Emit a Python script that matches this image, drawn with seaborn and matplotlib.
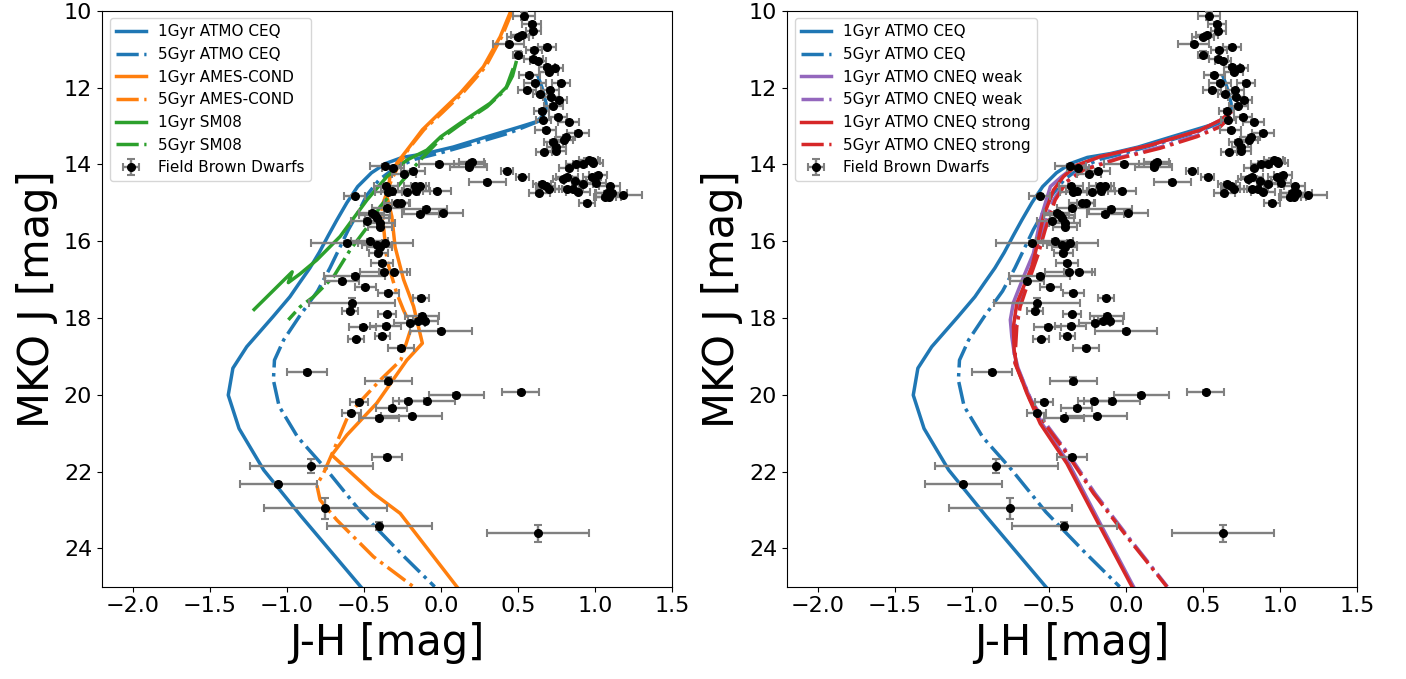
import matplotlib
matplotlib.use("Agg")
import matplotlib.pyplot as plt
import seaborn as sns

# Field brown dwarfs (J-H, MKO J, errors)
bd_jh = [0.54, 0.59, 0.60, 0.525, 0.50, 0.44, 0.69, 0.605, 0.50, 0.60, 0.63, 0.69, 0.74, 0.70, 0.575,
         0.61, 0.78, 0.56, 0.71, 0.715, 0.77, 0.645, 0.73, 0.655, 0.76, 0.83, 0.665, 0.68, 0.89, 0.81,
         0.80, 0.73, 0.75, 0.75, 0.67,
         0.88, 0.83, 0.925, 0.96, 0.99, 0.98, 0.79, 0.82, 0.87, 0.98, 1.02, 0.655, 0.68, 0.70, 0.64,
         0.82, 0.855, 0.89, 0.92, 1.01, 1.095, 1.08, 1.11, 1.065, 1.09, 1.185, 0.95,
         0.185, 0.20, 0.18, 0.43, 0.53, 0.30, -0.01,
         -0.36, -0.31, -0.18, -0.24, -0.56, -0.357, -0.32, -0.34, -0.22, -0.167, -0.134, -0.16, -0.026,
         -0.286, -0.258, -0.35, -0.45, -0.43, -0.415, -0.48, -0.398, -0.134, -0.097, 0.011, -0.394,
         -0.61, -0.463, -0.36, -0.415, -0.398, -0.405, -0.383, -0.56, -0.372, -0.303, -0.64, -0.49,
         -0.34, -0.13, -0.578, -0.59, -0.35, -0.12, -0.203, -0.15, -0.10, -0.357, -0.508, 0.0, -0.38,
         -0.55, -0.26, -0.87, -0.34, 0.10, 0.52, -0.09, -0.21, -0.53, -0.32, -0.58, -0.40, -0.19,
         -0.35, -0.84, -1.054, -0.75, -0.40, 0.63]
bd_j = [10.14, 10.35, 10.52, 10.63, 10.69, 10.87, 10.94, 11.02, 11.14, 11.26, 11.30, 11.47, 11.50, 11.59, 11.67,
        11.89, 11.89, 12.07, 12.07, 12.24, 12.33, 12.17, 12.48, 12.61, 12.76, 12.89, 12.85, 13.11, 13.18, 13.28,
        13.37, 13.41, 13.54, 13.65, 13.69,
        13.98, 14.09, 14.00, 13.89, 13.97, 13.91, 14.37, 14.32, 14.43, 14.32, 14.28, 14.50, 14.56, 14.65, 14.75,
        14.65, 14.63, 14.71, 14.52, 14.48, 14.56, 14.75, 14.74, 14.84, 14.86, 14.80, 15.00,
        13.99, 13.95, 14.06, 14.17, 14.32, 14.45, 14.00,
        14.04, 14.10, 14.17, 14.25, 14.83, 14.56, 14.70, 14.73, 14.71, 14.56, 14.57, 14.70, 14.69,
        15.02, 15.02, 15.13, 15.26, 15.32, 15.39, 15.47, 15.54, 15.30, 15.16, 15.26, 15.62,
        16.04, 16.00, 16.04, 16.10, 16.16, 16.32, 16.56, 16.91, 16.81, 16.80, 17.03, 17.19,
        17.36, 17.47, 17.60, 17.81, 17.91, 17.94, 18.14, 18.07, 18.07, 18.20, 18.23, 18.33, 18.46,
        18.56, 18.78, 19.40, 19.63, 20.00, 19.92, 20.17, 20.17, 20.18, 20.35, 20.47, 20.60, 20.55,
        21.62, 21.86, 22.33, 22.96, 23.42, 23.61]
bd_jh_err = [0.07, 0.06, 0.05, 0.07, 0.07, 0.10, 0.06, 0.05, 0.03, 0.06, 0.05, 0.05, 0.05, 0.06, 0.07,
             0.07, 0.06, 0.06, 0.06, 0.05, 0.05, 0.05, 0.06, 0.05, 0.06, 0.07, 0.05, 0.07, 0.07, 0.06,
             0.06, 0.06, 0.06, 0.06, 0.05,
             0.07, 0.06, 0.07, 0.06, 0.06, 0.05, 0.06, 0.07, 0.07, 0.06, 0.06, 0.06, 0.06, 0.07, 0.07,
             0.08, 0.07, 0.08, 0.07, 0.06, 0.07, 0.08, 0.10, 0.07, 0.08, 0.12, 0.05,
             0.10, 0.08, 0.12, 0.04, 0.04, 0.12, 0.13,
             0.10, 0.07, 0.08, 0.08, 0.07, 0.08, 0.07, 0.09, 0.08, 0.07, 0.06, 0.09, 0.09,
             0.08, 0.06, 0.10, 0.08, 0.10, 0.08, 0.10, 0.10, 0.12, 0.14, 0.13, 0.08,
             0.23, 0.12, 0.18, 0.10, 0.08, 0.06, 0.07, 0.20, 0.15, 0.10, 0.11, 0.07,
             0.07, 0.05, 0.28, 0.05, 0.06, 0.11, 0.10, 0.06, 0.08, 0.10, 0.09, 0.20, 0.05,
             0.05, 0.085, 0.13, 0.155, 0.18, 0.12, 0.18, 0.10, 0.06, 0.10, 0.06, 0.13, 0.20,
             0.10, 0.40, 0.25, 0.40, 0.34, 0.33]
bd_j_err = [0.10, 0.05, 0.05, 0.05, 0.05, 0.05, 0.05, 0.05, 0.10, 0.05, 0.05, 0.05, 0.05, 0.05, 0.05,
            0.05, 0.05, 0.05, 0.05, 0.05, 0.05, 0.05, 0.05, 0.05, 0.05, 0.05, 0.05, 0.05, 0.05, 0.05,
            0.05, 0.05, 0.05, 0.05, 0.05,
            0.05, 0.05, 0.05, 0.05, 0.05, 0.05, 0.05, 0.05, 0.05, 0.05, 0.05, 0.05, 0.05, 0.05, 0.05,
            0.05, 0.05, 0.05, 0.05, 0.05, 0.05, 0.05, 0.05, 0.05, 0.05, 0.05, 0.05,
            0.05, 0.05, 0.05, 0.05, 0.05, 0.05, 0.05,
            0.05, 0.05, 0.05, 0.05, 0.05, 0.05, 0.05, 0.05, 0.05, 0.05, 0.05, 0.05, 0.05,
            0.05, 0.05, 0.05, 0.05, 0.05, 0.05, 0.05, 0.05, 0.05, 0.05, 0.05, 0.05,
            0.05, 0.05, 0.05, 0.05, 0.05, 0.05, 0.05, 0.05, 0.05, 0.05, 0.05, 0.05,
            0.05, 0.05, 0.12, 0.05, 0.05, 0.05, 0.05, 0.05, 0.05, 0.05, 0.05, 0.05, 0.05,
            0.05, 0.05, 0.05, 0.08, 0.05, 0.05, 0.05, 0.05, 0.05, 0.05, 0.05, 0.05, 0.05,
            0.06, 0.19, 0.05, 0.27, 0.10, 0.23]

# ATMO CEQ
ceq1_jh = [0.63, 0.655, 0.683, 0.683, 0.666, 0.62, 0.50, 0.30, 0.08, -0.10, -0.25, -0.36, -0.45, -0.54,
           -0.61, -0.675, -0.73, -0.79, -0.85, -0.92, -0.98, -1.09, -1.26, -1.35, -1.38, -1.31, -1.15, -0.91, -0.52]
ceq1_j = [11.70, 11.98, 12.41, 12.59, 12.72, 12.89, 13.04, 13.28, 13.55, 13.72, 13.82, 13.98, 14.22, 14.58,
          15.0, 15.45, 15.85, 16.3, 16.7, 17.1, 17.45, 17.97, 18.75, 19.31, 20.01, 20.88, 21.96, 23.15, 25.0]
ceq5_jh = [0.65, 0.59, 0.44, 0.22, 0.0, -0.17, -0.30, -0.40, -0.48, -0.53, -0.60, -0.66, -0.72, -0.80,
           -0.92, -1.02, -1.08, -1.087, -1.05, -0.93, -0.74, -0.52, -0.26, -0.04]
ceq5_j = [12.85, 12.95, 13.19, 13.45, 13.70, 13.87, 14.1, 14.4, 14.8, 15.2, 15.7, 16.2, 16.7, 17.3,
          17.97, 18.57, 19.1, 19.62, 20.3, 21.1, 21.96, 23.05, 24.13, 25.0]

# AMES-COND
cond1_jh = [0.455, 0.385, 0.276, 0.125, 0.0, -0.12, -0.22, -0.286, -0.33, -0.35, -0.318, -0.297, -0.242,
            -0.177, -0.12, -0.221, -0.416, -0.61, -0.708, -0.437, -0.264, 0.104]
cond1_j = [10.0, 10.68, 11.46, 12.15, 12.63, 13.1, 13.63, 13.97, 14.32, 14.84, 15.36, 16.15, 17.0,
           17.7, 18.66, 19.1, 20.22, 21.05, 21.57, 22.57, 23.09, 25.0]
cond5_jh = [0.465, 0.395, 0.29, 0.14, 0.01, -0.11, -0.21, -0.27, -0.32, -0.383, -0.372, -0.36, -0.35,
            -0.318, -0.286, -0.242, -0.19, -0.26, -0.394, -0.524, -0.60, -0.686, -0.762, -0.805, -0.784,
            -0.676, -0.437, -0.178]
cond5_j = [10.0, 10.68, 11.46, 12.15, 12.65, 13.1, 13.6, 14.0, 14.4, 15.1, 15.62, 16.1, 16.49,
           16.93, 17.36, 17.8, 18.23, 19.1, 19.62, 20.18, 20.53, 21.35, 22.05, 22.35, 22.74,
           23.26, 24.22, 25.0]

# SM08
sm1_jh = [0.488, 0.465, 0.428, 0.32, 0.125, 0.0, -0.091, -0.221, -0.35, -0.48, -0.654, -0.805, -0.913,
          -0.99, -0.965, -1.212]
sm1_j = [11.35, 11.7, 11.98, 12.41, 12.93, 13.28, 13.63, 13.89, 14.32, 14.93, 15.88, 16.49, 16.85,
         17.08, 16.8, 17.78]
sm5_jh = [0.47, 0.42, 0.30, 0.12, 0.0, -0.134, -0.264, -0.394, -0.46, -0.589, -0.697, -0.827, -0.913, -0.99]
sm5_j = [11.5, 12.05, 12.5, 12.98, 13.33, 13.89, 14.5, 15.1, 15.54, 16.23, 16.93, 17.45, 17.71, 18.05]

# ATMO CNEQ weak
weak1_jh = [0.68, 0.613, 0.483, 0.158, -0.167, -0.33, -0.42, -0.49, -0.556, -0.60, -0.664, -0.73, -0.75,
            -0.74, -0.725, -0.70, -0.635, -0.545, -0.37, -0.155, 0.05]
weak1_j = [12.65, 12.85, 13.11, 13.5, 13.8, 14.05, 14.33, 14.58, 15.45, 16.32, 16.93, 17.6, 18.05,
           18.5, 18.9, 19.3, 19.96, 20.75, 21.79, 23.44, 25.0]
weak5_jh = [0.68, 0.613, 0.461, 0.223, -0.037, -0.29, -0.40, -0.47, -0.54, -0.58, -0.66, -0.70, -0.72,
            -0.725, -0.715, -0.615, -0.505, -0.375, -0.20, 0.015, 0.27]
weak5_j = [12.75, 13.0, 13.25, 13.55, 13.82, 14.15, 14.5, 14.93, 15.71, 16.32, 17.19, 17.71, 18.23,
           19.05, 19.2, 20.14, 20.83, 21.53, 22.57, 23.7, 25.0]

# ATMO CNEQ strong
strong1_jh = [0.68, 0.613, 0.483, 0.158, -0.167, -0.318, -0.405, -0.47, -0.535, -0.578, -0.61, -0.664,
              -0.708, -0.73, -0.725, -0.708, -0.643, -0.556, -0.383, -0.167, 0.04]
strong1_j = [12.65, 12.85, 13.11, 13.5, 13.8, 14.02, 14.32, 14.67, 15.36, 16.14, 16.67, 17.19,
             17.62, 18.23, 18.84, 19.27, 19.96, 20.75, 21.79, 23.44, 25.0]
strong5_jh = [0.68, 0.613, 0.461, 0.223, -0.037, -0.275, -0.383, -0.459, -0.524, -0.567, -0.643, -0.686,
              -0.708, -0.72, -0.72, -0.621, -0.513, -0.383, -0.21, 0.007, 0.266]
strong5_j = [12.75, 13.02, 13.28, 13.58, 13.84, 14.15, 14.45, 14.93, 15.71, 16.32, 17.19, 17.71,
             18.23, 19.05, 19.18, 20.14, 20.83, 21.53, 22.57, 23.7, 25.0]

BLUE, ORANGE, GREEN, PURPLE, RED = "#1f77b4", "#ff7f0e", "#2ca02c", "#9467bd", "#d62728"
LW = 2.5


def model(ax, x, y, color, ls, label):
    sns.lineplot(x=x, y=y, sort=False, estimator=None, ax=ax, color=color,
                 linestyle=ls, linewidth=LW, label=label)


def field_dwarfs(ax):
    ax.errorbar(bd_jh, bd_j, xerr=bd_jh_err, yerr=bd_j_err, fmt="o", color="k",
                ecolor="grey", markersize=5.5, elinewidth=1.7, capsize=3, capthick=1.5,
                zorder=3, label="Field Brown Dwarfs")


def finish(ax):
    ax.set_xlim(-2.2, 1.5)
    ax.set_ylim(25, 10)
    ax.set_yticks([10, 12, 14, 16, 18, 20, 22, 24])
    ax.set_xlabel("J-H [mag]", fontsize=30)
    ax.set_ylabel("MKO J [mag]", fontsize=30)
    ax.tick_params(labelsize=16)
    ax.legend(loc="upper left", fontsize=11)


fig = plt.figure(figsize=(14.06, 6.79), dpi=100)
ax1 = fig.add_axes([0.0725, 0.1359, 0.4054, 0.8483])
ax2 = fig.add_axes([0.5597, 0.1359, 0.4054, 0.8483])

# Left: ATMO vs AMES-COND vs SM08
model(ax1, ceq1_jh, ceq1_j, BLUE, "-", "1Gyr ATMO CEQ")
model(ax1, ceq5_jh, ceq5_j, BLUE, "-.", "5Gyr ATMO CEQ")
model(ax1, cond1_jh, cond1_j, ORANGE, "-", "1Gyr AMES-COND")
model(ax1, cond5_jh, cond5_j, ORANGE, "-.", "5Gyr AMES-COND")
model(ax1, sm1_jh, sm1_j, GREEN, "-", "1Gyr SM08")
model(ax1, sm5_jh, sm5_j, GREEN, "-.", "5Gyr SM08")
field_dwarfs(ax1)
finish(ax1)

# Right: equilibrium vs non-equilibrium chemistry
model(ax2, ceq1_jh, ceq1_j, BLUE, "-", "1Gyr ATMO CEQ")
model(ax2, ceq5_jh, ceq5_j, BLUE, "-.", "5Gyr ATMO CEQ")
model(ax2, weak1_jh, weak1_j, PURPLE, "-", "1Gyr ATMO CNEQ weak")
model(ax2, weak5_jh, weak5_j, PURPLE, "-.", "5Gyr ATMO CNEQ weak")
model(ax2, strong1_jh, strong1_j, RED, "-", "1Gyr ATMO CNEQ strong")
model(ax2, strong5_jh, strong5_j, RED, "-.", "5Gyr ATMO CNEQ strong")
field_dwarfs(ax2)
finish(ax2)

fig.savefig("out.png", dpi=100)
